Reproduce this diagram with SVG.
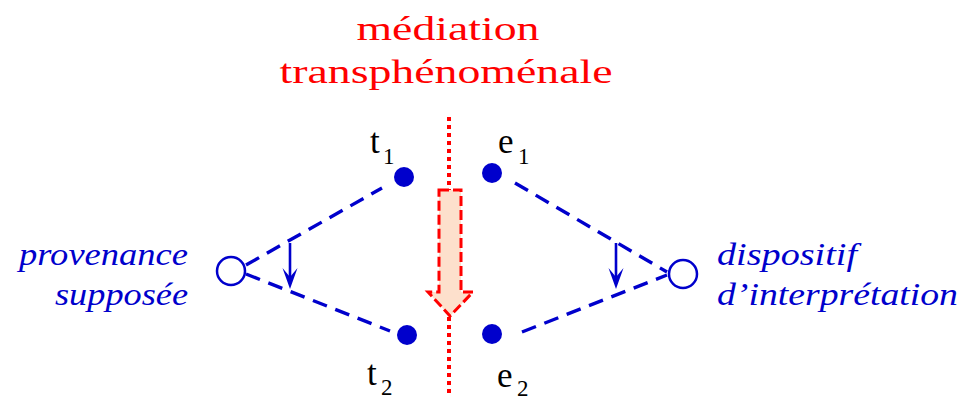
<svg xmlns="http://www.w3.org/2000/svg" width="963" height="401" viewBox="0 0 963 401" font-family="Liberation Serif, DejaVu Serif, serif">
<style>
text{font-family:"Liberation Serif","DejaVu Serif",serif}
.title{font-size:33px;fill:#ff0000;text-anchor:middle}
.lab{font-size:31px;font-style:italic;fill:#0000cc}
.var{font-size:35px;fill:#000}
.sub{font-size:23px;fill:#000}
.dash{fill:none;stroke:#0000cc;stroke-width:3.4;stroke-dasharray:15 9}
.dot{fill:#0000cc}
.open{fill:#fff;stroke:#0000cc;stroke-width:2.5}
.small{fill:none;stroke:#0000cc;stroke-width:2.6}
</style>
<defs>
<path id="head" d="M0,0 L-7.5,-21 L0,-12 L7.5,-21 Z" fill="#0000cc"/>
</defs>
<rect width="963" height="401" fill="#fff"/>
<g id="title">
<text class="title" x="448" y="40" textLength="183" lengthAdjust="spacingAndGlyphs">médiation</text>
<text class="title" x="446" y="83" textLength="333" lengthAdjust="spacingAndGlyphs">transphénoménale</text>
</g>
<g id="connectors">
<line x1="449" y1="117" x2="449" y2="397" stroke="#ff0000" stroke-width="4" stroke-dasharray="4 4"/>
<path id="mediation-arrow" d="M439,190 H461 V292 H473 L450,316 L428,292 H439 Z" fill="#fde0cc" stroke="#ff0000" stroke-width="3" stroke-dasharray="10 4"/>
<line class="dash" x1="246" y1="265" x2="382" y2="188"/>
<line class="dash" x1="246" y1="274" x2="390" y2="331"/>
<line class="dash" x1="515" y1="183" x2="667" y2="272"/>
<line class="dash" x1="522" y1="332" x2="667" y2="275"/>
<line class="small" x1="290" y1="243" x2="290" y2="280"/>
<use href="#head" x="290" y="289"/>
<line class="small" x1="616" y1="243" x2="616" y2="280"/>
<use href="#head" x="616" y="289"/>
</g>
<g id="t1"><circle class="dot" cx="404" cy="177" r="10"/><text class="var" x="370" y="153">t</text><text class="sub" x="383" y="164">1</text></g>
<g id="t2"><circle class="dot" cx="407" cy="335" r="10"/><text class="var" x="367" y="385">t</text><text class="sub" x="381" y="395">2</text></g>
<g id="e1"><circle class="dot" cx="492" cy="173" r="10"/><text class="var" x="498" y="153">e</text><text class="sub" x="518" y="164">1</text></g>
<g id="e2"><circle class="dot" cx="492" cy="334" r="10"/><text class="var" x="497" y="387">e</text><text class="sub" x="517" y="396">2</text></g>
<g id="provenance">
<circle class="open" cx="231" cy="271" r="14"/>
<text class="lab" x="188" y="265" text-anchor="end" textLength="169" lengthAdjust="spacingAndGlyphs">provenance</text>
<text class="lab" x="188" y="305" text-anchor="end" textLength="133" lengthAdjust="spacingAndGlyphs">supposée</text>
</g>
<g id="dispositif">
<circle class="open" cx="683" cy="274" r="14"/>
<text class="lab" x="717" y="265" textLength="140" lengthAdjust="spacingAndGlyphs">dispositif</text>
<text class="lab" x="717" y="305" textLength="241" lengthAdjust="spacingAndGlyphs">d’interprétation</text>
</g>
</svg>
